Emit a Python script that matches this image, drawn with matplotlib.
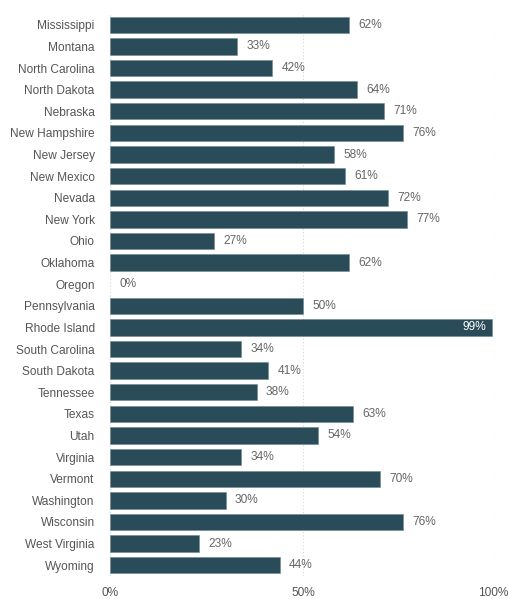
import matplotlib
matplotlib.use("Agg")
import matplotlib.pyplot as plt
import matplotlib.transforms as mtransforms

states = ["Mississippi", "Montana", "North Carolina", "North Dakota", "Nebraska",
          "New Hampshire", "New Jersey", "New Mexico", "Nevada", "New York", "Ohio",
          "Oklahoma", "Oregon", "Pennsylvania", "Rhode Island", "South Carolina",
          "South Dakota", "Tennessee", "Texas", "Utah", "Virginia", "Vermont",
          "Washington", "Wisconsin", "West Virginia", "Wyoming"]
values = [62, 33, 42, 64, 71, 76, 58, 61, 72, 77, 27, 62, 0, 50, 99, 34, 41, 38,
          63, 54, 34, 70, 30, 76, 23, 44]
xticks = [0, 50, 100]
xticklabels = ["0%", "50%", "100%"]

plt.rcParams['font.family'] = ['Liberation Sans', 'DejaVu Sans']
FS = 8.6

fig = plt.figure(figsize=(5.08, 5.99), dpi=100)
ax = fig.add_axes([110/508, 1 - 576/599, (496-110)/508, (576-14)/599])

bar_color = "#2a4b58"
y = list(range(len(states)))
edges = ["#6f8790" if v > 0 else "none" for v in values]
ax.barh(y, values, height=0.76, color=bar_color, edgecolor=edges, linewidth=0.4, zorder=3)
ax.set_ylim(len(states) - 0.5, -0.5)
ax.set_xlim(0, 100)

for yi, v in zip(y, values):
    if v >= 90:
        ax.text(v - 1.5, yi, f"{v}%", ha="right", va="center", color="white", fontsize=FS, zorder=4)
    else:
        ax.text(v + 2.4, yi, f"{v}%", ha="left", va="center", color="#666666", fontsize=FS, zorder=4)

ax.set_yticks(y)
ax.set_yticklabels(states, fontsize=FS, color="#555555")
ax.set_xticks(xticks)
ax.set_xticklabels(xticklabels, fontsize=FS, color="#555555")
ax.tick_params(axis="both", length=0)
ax.tick_params(axis="y", pad=11)
ax.tick_params(axis="x", pad=8)
last = ax.get_xticklabels()[-1]
last.set_transform(last.get_transform() + mtransforms.ScaledTranslation(-3/100, 0, fig.dpi_scale_trans))
for s in ax.spines.values():
    s.set_visible(False)
ax.grid(axis="x", linestyle=(0, (1, 2)), color="#d5d5d5", linewidth=0.8, zorder=0)

fig.savefig("out.png", dpi=100)
